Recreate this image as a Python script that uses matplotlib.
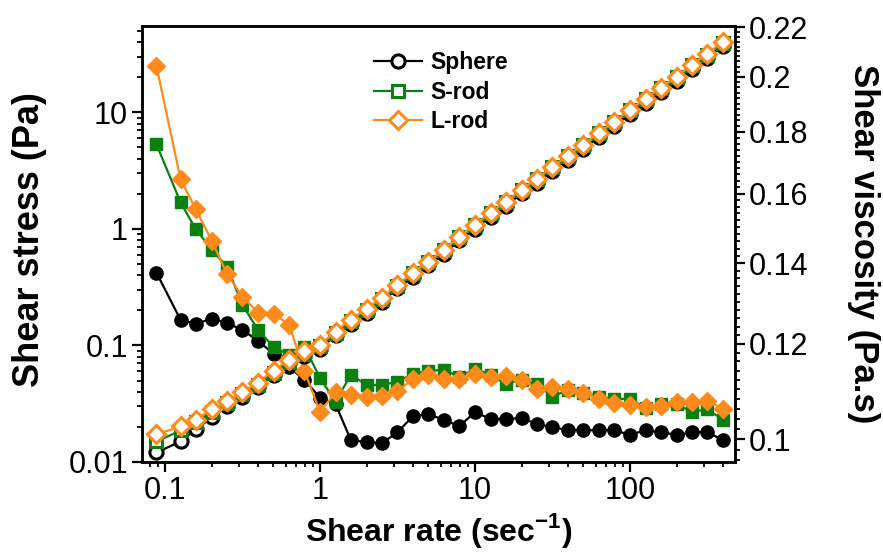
import numpy as np
import matplotlib

matplotlib.use("Agg")
import matplotlib.pyplot as plt  # noqa: E402
from matplotlib import ticker  # noqa: E402

plt.rcParams["font.family"] = ["Liberation Sans", "DejaVu Sans"]
plt.rcParams["mathtext.fontset"] = "custom"
plt.rcParams["mathtext.rm"] = "Liberation Sans"
plt.rcParams["mathtext.bf"] = "Liberation Sans:bold"

shear_rate = [0.088, 0.126, 0.158, 0.2, 0.251, 0.316, 0.398, 0.501, 0.631, 0.794,
              1.0, 1.26, 1.58, 2.0, 2.51, 3.16, 3.98, 5.01, 6.31, 7.94,
              10.0, 12.6, 15.8, 20.0, 25.1, 31.6, 39.8, 50.1, 63.1, 79.4,
              100.0, 126, 158, 200, 251, 316, 398]

sphere_stress = [0.01206, 0.01499, 0.0190, 0.02408, 0.02992, 0.03644, 0.04441, 0.05628, 0.06996, 0.0819,
                 0.09406, 0.122, 0.154, 0.191, 0.238, 0.308, 0.39, 0.485, 0.614, 0.795,
                 1.006, 1.275, 1.58, 2.01, 2.49, 3.16, 3.93, 4.88, 6.19, 7.69,
                 9.75, 12.1, 15.0, 18.7, 23.7, 29.5, 37.3]
srod_stress = [0.01499, 0.01863, 0.02182, 0.02658, 0.03175, 0.03793, 0.0462, 0.05856, 0.07275, 0.0852,
               0.0979, 0.128, 0.163, 0.203, 0.252, 0.326, 0.414, 0.515, 0.652, 0.845,
               1.07, 1.36, 1.69, 2.14, 2.66, 3.37, 4.19, 5.21, 6.6, 8.2,
               10.4, 12.9, 16.0, 19.9, 25.2, 31.3, 39.6]
lrod_stress = [0.01722, 0.02016, 0.02314, 0.02821, 0.03303, 0.03946, 0.04806, 0.06091, 0.07568, 0.0887,
               0.1018, 0.1316, 0.1668, 0.2072, 0.2575, 0.3328, 0.4218, 0.5244, 0.6645, 0.859,
               1.089, 1.38, 1.714, 2.173, 2.70, 3.422, 4.253, 5.284, 6.697, 8.322,
               10.55, 13.11, 16.28, 20.24, 25.65, 31.87, 40.39]

sphere_visc = [0.1375, 0.1256, 0.1247, 0.1259, 0.1249, 0.1232, 0.1207, 0.1177, 0.1148, 0.1120,
               0.1082, 0.1069, 0.0998, 0.0994, 0.0992, 0.1013, 0.1045, 0.1049, 0.1037, 0.1025,
               0.1053, 0.1039, 0.1039, 0.1041, 0.1029, 0.1023, 0.1017, 0.1017, 0.1017, 0.1017,
               0.1008, 0.1017, 0.1013, 0.1008, 0.1013, 0.1013, 0.0998]
srod_visc = [0.1758, 0.1573, 0.1494, 0.1437, 0.1391, 0.1293, 0.1232, 0.1193, 0.1175, 0.1193,
             0.1124, 0.1074, 0.1131, 0.1109, 0.1109, 0.1116, 0.1133, 0.1139, 0.1142, 0.1126,
             0.1144, 0.1131, 0.1111, 0.1120, 0.1111, 0.1084, 0.1099, 0.1092, 0.1084, 0.1080,
             0.1080, 0.1061, 0.1069, 0.1069, 0.1053, 0.1059, 0.1037]
lrod_visc = [0.2042, 0.1644, 0.1552, 0.1462, 0.1372, 0.1313, 0.1274, 0.1271, 0.1245, 0.1139,
             0.1053, 0.1094, 0.1088, 0.1084, 0.1086, 0.1096, 0.1122, 0.1131, 0.1122, 0.1122,
             0.1133, 0.1126, 0.1128, 0.1120, 0.1101, 0.1105, 0.1101, 0.1092, 0.1080, 0.1072,
             0.1067, 0.1063, 0.1065, 0.1074, 0.1074, 0.1076, 0.1059]

visc_ticks = [0.1, 0.12, 0.14, 0.16, 0.18, 0.2, 0.22]
series = [
    ("Sphere", "#000000", "o", 9.5, sphere_stress, sphere_visc),
    ("S-rod", "#0a8010", "s", 9.0, srod_stress, srod_visc),
    ("L-rod", "#ff8a1c", "D", 8.8, lrod_stress, lrod_visc),
]

fig = plt.figure(figsize=(8.83, 5.56), dpi=100)
ax = fig.add_axes([0.1608, 0.1691, 0.6716, 0.7842])
ax2 = ax.twinx()
# stress (open markers) is drawn over the viscosity curves
ax.set_zorder(ax2.get_zorder() + 1)
ax.patch.set_visible(False)

for name, color, marker, size, stress, visc in series:
    ax2.plot(shear_rate, visc, color=color, marker=marker, markersize=size,
             markerfacecolor=color, markeredgecolor=color, linewidth=1.6)
    ax.plot(shear_rate, stress, color=color, marker=marker, markersize=size,
            markerfacecolor="white", markeredgecolor=color, markeredgewidth=2.2,
            linewidth=1.6, label=name)

ax.set_xscale("log")
ax.set_yscale("log")
ax2.set_yscale("log")
ax.set_xlim(0.071, 476)
ax.set_ylim(0.01, 55)
ax2.set_ylim(0.0957, 0.2205)

fmt = ticker.FuncFormatter(lambda v, _: f"{v:g}")
ax.xaxis.set_major_formatter(fmt)
ax.yaxis.set_major_formatter(fmt)
ax.xaxis.set_minor_formatter(ticker.NullFormatter())
ax.yaxis.set_minor_formatter(ticker.NullFormatter())
ax.xaxis.set_minor_locator(ticker.LogLocator(subs=np.arange(2, 10), numticks=20))
ax.yaxis.set_minor_locator(ticker.LogLocator(subs=np.arange(2, 10), numticks=20))

ax2.yaxis.set_major_locator(ticker.FixedLocator(visc_ticks))
ax2.yaxis.set_major_formatter(fmt)
ax2.yaxis.set_minor_locator(ticker.FixedLocator(np.arange(0.096, 0.2205, 0.002)))
ax2.yaxis.set_minor_formatter(ticker.NullFormatter())

for a in (ax, ax2):
    for spine in a.spines.values():
        spine.set_linewidth(1.8)
    a.tick_params(which="major", direction="out", length=7, width=1.6, labelsize=22, pad=3)
    a.tick_params(which="minor", direction="out", length=3.5, width=1.3)
ax.tick_params(top=False, right=False)

ax.set_xlabel(r"Shear rate (sec$^{\mathbf{-1}}$)", fontsize=23, fontweight="bold", labelpad=4)
ax.set_ylabel("Shear stress (Pa)", fontsize=26, fontweight="bold", va="center")
ax.yaxis.set_label_coords(-0.19, 0.51)
ax2.set_ylabel("Shear viscosity (Pa.s)", fontsize=25, fontweight="bold", rotation=270, va="center")
ax2.yaxis.set_label_coords(1.216, 0.5)

ax.legend(loc="upper left", bbox_to_anchor=(365 / 883, 1 - 42 / 556), bbox_transform=fig.transFigure,
          frameon=False, prop={"size": 16.5, "weight": "bold"}, handlelength=2.1,
          handletextpad=0.35, labelspacing=0.28, borderaxespad=0)

fig.savefig("out.png", dpi=100)
plt.close(fig)
